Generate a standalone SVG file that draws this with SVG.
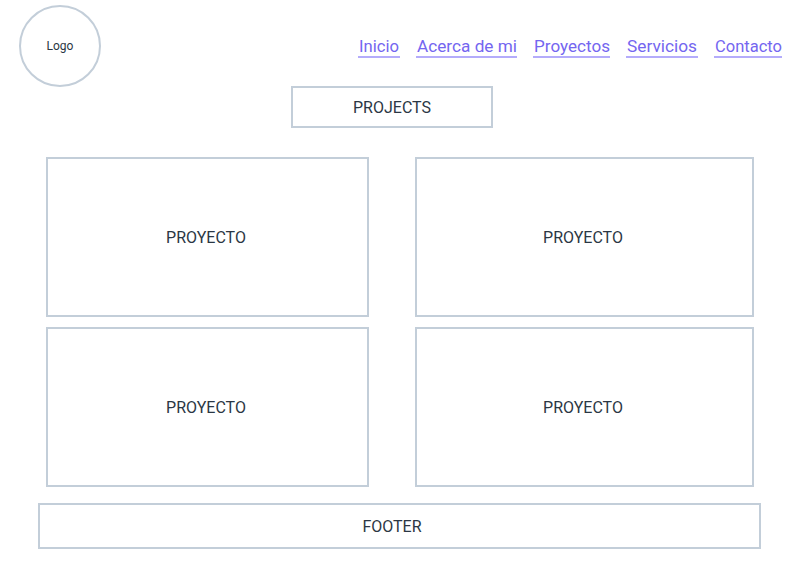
<svg xmlns="http://www.w3.org/2000/svg" width="800" height="564" viewBox="0 0 800 564">
<style>
.box{fill:#fff;stroke:#c3ced9;stroke-width:2}
.lbl{font-family:Roboto,"Noto Sans",sans-serif;font-size:16px;fill:#2b3744;text-anchor:middle;dominant-baseline:central}
.nav{font-family:Roboto,"Noto Sans",sans-serif;font-size:17px;fill:#7466f0}
.ul{stroke:#b4acfb;stroke-width:2}
</style>
<rect width="800" height="564" fill="#fff"/>
<g id="logo"><circle class="box" cx="60" cy="46" r="40"/><text class="lbl" x="60" y="46" style="font-size:12px">Logo</text></g>
<g id="nav">
<text class="nav" x="359" y="52" textLength="40" lengthAdjust="spacingAndGlyphs">Inicio</text><line class="ul" x1="358" y1="57" x2="400" y2="57"/>
<text class="nav" x="417" y="52" textLength="100" lengthAdjust="spacingAndGlyphs">Acerca de mi</text><line class="ul" x1="416" y1="57" x2="517" y2="57"/>
<text class="nav" x="534" y="52" textLength="76" lengthAdjust="spacingAndGlyphs">Proyectos</text><line class="ul" x1="533" y1="57" x2="610" y2="57"/>
<text class="nav" x="627" y="52" textLength="70" lengthAdjust="spacingAndGlyphs">Servicios</text><line class="ul" x1="626" y1="57" x2="698" y2="57"/>
<text class="nav" x="715" y="52" textLength="67" lengthAdjust="spacingAndGlyphs">Contacto</text><line class="ul" x1="714" y1="57" x2="782" y2="57"/>
</g>
<g id="projects"><rect class="box" x="292" y="87" width="200" height="40"/><text class="lbl" x="392" y="107">PROJECTS</text></g>
<g id="p1"><rect class="box" x="47" y="158" width="321" height="158"/><text class="lbl" x="206" y="237">PROYECTO</text></g>
<g id="p2"><rect class="box" x="416" y="158" width="337" height="158"/><text class="lbl" x="583" y="237">PROYECTO</text></g>
<g id="p3"><rect class="box" x="47" y="328" width="321" height="158"/><text class="lbl" x="206" y="407">PROYECTO</text></g>
<g id="p4"><rect class="box" x="416" y="328" width="337" height="158"/><text class="lbl" x="583" y="407">PROYECTO</text></g>
<g id="footer"><rect class="box" x="39" y="504" width="721" height="44"/><text class="lbl" x="392" y="526">FOOTER</text></g>
<g id="connectors"/>
</svg>
